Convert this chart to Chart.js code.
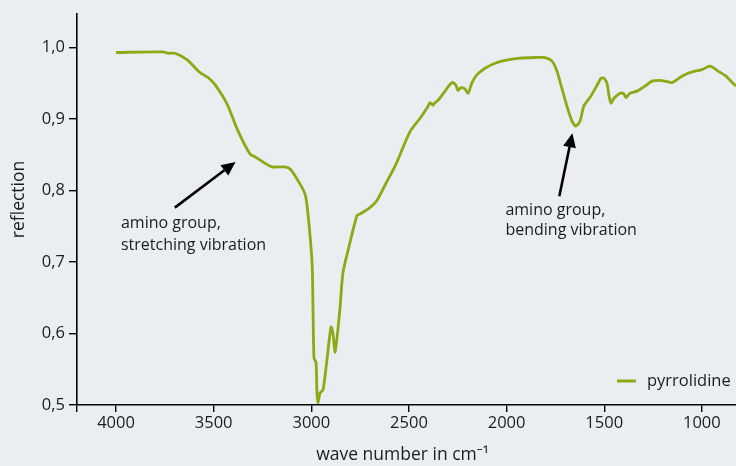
<!DOCTYPE html>
<html>
<head>
<meta charset="utf-8">
<script src="https://cdn.jsdelivr.net/npm/chart.js@4/dist/chart.umd.min.js"></script>
<style>
  html, body { margin: 0; padding: 0; background: #ebeef1; }
  #wrap { width: 736px; height: 466px; }
</style>
</head>
<body>
<div id="wrap"><canvas id="c" width="736" height="466"></canvas></div>
<script>
// IR spectrum of pyrrolidine: wave number (cm⁻¹) and reflection
const waveNumbers = [
  4000, 3760, 3734, 3698, 3637, 3570, 3529, 3493, 3432, 3375,
  3314, 3288, 3237, 3201, 3171, 3135, 3109, 3073, 3032, 3017,
  2996, 2991, 2986, 2976, 2971, 2966, 2955, 2940, 2920, 2899,
  2889, 2879, 2868, 2853, 2838, 2812, 2766, 2751, 2700, 2664,
  2612, 2571, 2495, 2443, 2402, 2392, 2377, 2366, 2351, 2315,
  2279, 2259, 2249, 2238, 2228, 2213, 2197, 2177, 2151, 2110,
  2059, 2008, 1931, 1854, 1803, 1767, 1742, 1716, 1691, 1665,
  1645, 1624, 1603, 1573, 1537, 1516, 1501, 1486, 1475, 1465,
  1450, 1419, 1399, 1388, 1368, 1332, 1291, 1255, 1214, 1188,
  1153, 1112, 1071, 1035, 999, 958, 917, 881, 840, 825
];
const reflection = [
  0.993, 0.994, 0.992, 0.992, 0.983, 0.965, 0.958, 0.948, 0.921, 0.883,
  0.851, 0.847, 0.838, 0.833, 0.833, 0.833, 0.830, 0.816, 0.795, 0.767,
  0.698, 0.628, 0.565, 0.560, 0.517, 0.503, 0.517, 0.521, 0.563, 0.609,
  0.600, 0.574, 0.595, 0.636, 0.685, 0.716, 0.765, 0.767, 0.776, 0.786,
  0.813, 0.834, 0.882, 0.901, 0.918, 0.923, 0.919, 0.923, 0.926, 0.939,
  0.951, 0.947, 0.940, 0.943, 0.944, 0.942, 0.936, 0.951, 0.962, 0.971,
  0.978, 0.982, 0.985, 0.986, 0.986, 0.981, 0.967, 0.942, 0.918, 0.897,
  0.890, 0.897, 0.919, 0.930, 0.947, 0.957, 0.957, 0.950, 0.932, 0.922,
  0.929, 0.936, 0.935, 0.930, 0.936, 0.939, 0.946, 0.953, 0.954, 0.953,
  0.951, 0.958, 0.964, 0.967, 0.969, 0.974, 0.967, 0.961, 0.950, 0.946
];
const xTicks = [4000, 3500, 3000, 2500, 2000, 1500, 1000];
const yTicks = [0.5, 0.6, 0.7, 0.8, 0.9, 1.0];
const seriesLabel = 'pyrrolidine';
const xTitle = 'wave number in cm⁻¹';
const yTitle = 'reflection';

// Callouts: arrow tail -> tip in data units, text block anchored at `at`
const callouts = [
  { tail: [3699, 0.776], tip: [3388, 0.840], lines: ['amino group,', 'stretching vibration'], at: [3975, 0.748], gap: 22 },
  { tail: [1730, 0.792], tip: [1663, 0.880], lines: ['amino group,', 'bending vibration'], at: [2006, 0.766], gap: 20 }
];

const FONT = '"Open Sans", "Noto Sans", sans-serif';
const INK = '#1c1c1c';
const GREEN = '#8fa816';
const BG = '#ebeef1';

const bgPlugin = {
  id: 'bg',
  beforeDraw(chart) {
    const ctx = chart.ctx;
    ctx.save();
    ctx.fillStyle = BG;
    ctx.fillRect(0, 0, chart.width, chart.height);
    ctx.restore();
  }
};

function arrow(ctx, x1, y1, x2, y2) {
  const ang = Math.atan2(y2 - y1, x2 - x1);
  const headLen = 14, headHalf = 6.5;
  const bx = x2 - headLen * Math.cos(ang), by = y2 - headLen * Math.sin(ang);
  ctx.beginPath();
  ctx.moveTo(x1, y1);
  ctx.lineTo(bx, by);
  ctx.stroke();
  ctx.beginPath();
  ctx.moveTo(x2, y2);
  ctx.lineTo(bx + headHalf * Math.sin(ang), by - headHalf * Math.cos(ang));
  ctx.lineTo(bx - headHalf * Math.sin(ang), by + headHalf * Math.cos(ang));
  ctx.closePath();
  ctx.fill();
}

const decorPlugin = {
  id: 'decor',
  afterDraw(chart) {
    const ctx = chart.ctx;
    const xs = chart.scales.x, ys = chart.scales.y;
    const area = chart.chartArea;
    ctx.save();
    // callouts
    ctx.lineWidth = 2.6;
    ctx.lineCap = 'butt';
    callouts.forEach(c => {
      ctx.strokeStyle = '#000';
      ctx.fillStyle = '#000';
      arrow(ctx, xs.getPixelForValue(c.tail[0]), ys.getPixelForValue(c.tail[1]),
                 xs.getPixelForValue(c.tip[0]), ys.getPixelForValue(c.tip[1]));
      ctx.fillStyle = INK;
      ctx.font = '16px ' + FONT;
      ctx.textAlign = 'left';
      ctx.textBaseline = 'alphabetic';
      const tx = xs.getPixelForValue(c.at[0]);
      const ty = ys.getPixelForValue(c.at[1]);
      c.lines.forEach((t, i) => ctx.fillText(t, tx, ty + i * c.gap));
    });
    // legend inside the plot, lower right
    const ds = chart.data.datasets[0];
    const ly = area.bottom - 24;
    ctx.strokeStyle = ds.borderColor;
    ctx.lineWidth = 3;
    ctx.beginPath();
    ctx.moveTo(area.right - 119, ly);
    ctx.lineTo(area.right - 100, ly);
    ctx.stroke();
    ctx.fillStyle = INK;
    ctx.font = '16.5px ' + FONT;
    ctx.textAlign = 'left';
    ctx.textBaseline = 'middle';
    ctx.fillText(ds.label, area.right - 89, ly);
    // axis titles
    ctx.font = '17.5px ' + FONT;
    ctx.textAlign = 'center';
    ctx.textBaseline = 'middle';
    ctx.fillText(xTitle, (area.left + area.right) / 2 - 4, 455);
    ctx.save();
    ctx.translate(19, (area.top + area.bottom) / 2 - 10);
    ctx.rotate(-Math.PI / 2);
    ctx.fillText(yTitle, 0, 0);
    ctx.restore();
    ctx.restore();
  }
};

const points = waveNumbers.map((w, i) => ({ x: w, y: reflection[i] }));

new Chart(document.getElementById('c'), {
  type: 'line',
  data: {
    datasets: [{
      label: seriesLabel,
      data: points,
      borderColor: GREEN,
      borderWidth: 2.8,
      pointRadius: 0,
      tension: 0.25,
      fill: false
    }]
  },
  options: {
    responsive: false,
    animation: false,
    devicePixelRatio: 1,
    layout: { padding: { top: 12, right: 0, left: 0, bottom: 0 } },
    plugins: { legend: { display: false }, tooltip: { enabled: false } },
    scales: {
      x: {
        type: 'linear',
        reverse: true,
        min: 825,
        max: 4200,
        afterBuildTicks(scale) {
          scale.ticks = [4200].concat(xTicks).map(v => ({ value: v }));
        },
        afterFit(scale) { scale.height = 61; },
        grid: { drawOnChartArea: false, drawTicks: true, tickLength: 7, color: '#000', lineWidth: 1.4 },
        border: { display: true, color: '#000', width: 1.6 },
        ticks: {
          autoSkip: false, maxRotation: 0, padding: 1, color: INK,
          font: { family: FONT, size: 16.5 },
          callback: v => (v === 4200 ? '' : String(v))
        }
      },
      y: {
        type: 'linear',
        min: 0.5,
        max: 1.047,
        afterBuildTicks(scale) {
          scale.ticks = yTicks.map(v => ({ value: v }));
        },
        afterFit(scale) { scale.width = 77; },
        grid: { drawOnChartArea: false, drawTicks: true, tickLength: 8, color: '#000', lineWidth: 1.4 },
        border: { display: true, color: '#000', width: 1.6 },
        ticks: {
          padding: 4, color: INK,
          font: { family: FONT, size: 16.5 },
          callback: v => v.toFixed(1).replace('.', ',')
        }
      }
    }
  },
  plugins: [bgPlugin, decorPlugin]
});
</script>
</body>
</html>
